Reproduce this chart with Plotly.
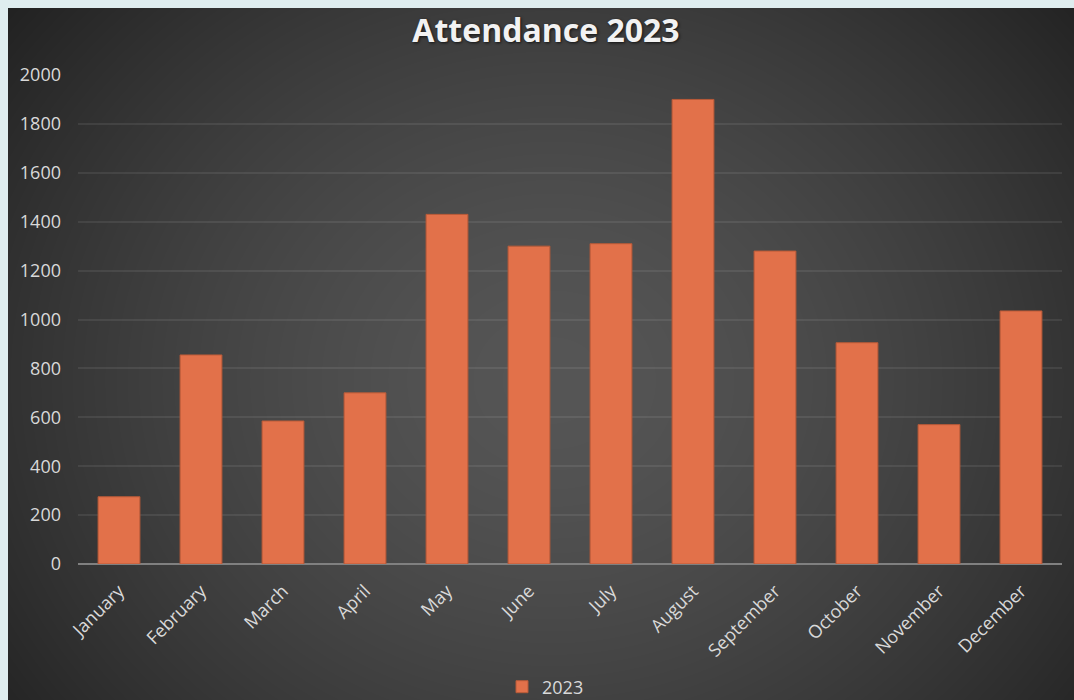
import base64
import struct
import zlib

import numpy as np
import plotly.graph_objects as go

# ---- data ----
months = ["January", "February", "March", "April", "May", "June", "July",
          "August", "September", "October", "November", "December"]
attendance_2023 = [275, 855, 585, 700, 1430, 1300, 1310, 1900, 1280, 905, 570, 1035]
y_ticks = [0, 200, 400, 600, 800, 1000, 1200, 1400, 1600, 1800, 2000]
series_name = "2023"
title_text = "Attendance 2023"

# ---- geometry (page pixels; body margin removed in post_script) ----
W, H = 1074, 700
ML, MR, MT, MB = 78, 12, 75, 136
PW, PH = W - ML - MR, H - MT - MB
BOX_X0, BOX_Y0 = 8, 8  # dark panel top-left


def radial_png(w, h, cx, cy):
    yy, xx = np.mgrid[0:h, 0:w].astype(float)
    r = np.sqrt((xx - cx) ** 2 + ((yy - cy) * 1.15) ** 2)
    rn = r / r.max()
    v = 86 - (86 - 34) * rn ** 1.5
    img = np.clip(v, 0, 255).astype(np.uint8)
    raw = b"".join(b"\x00" + img[i].tobytes() for i in range(h))

    def chunk(t, d):
        return struct.pack(">I", len(d)) + t + d + struct.pack(">I", zlib.crc32(t + d) & 0xFFFFFFFF)

    png = (b"\x89PNG\r\n\x1a\n"
           + chunk(b"IHDR", struct.pack(">IIBBBBB", w, h, 8, 0, 0, 0, 0))
           + chunk(b"IDAT", zlib.compress(raw, 9))
           + chunk(b"IEND", b""))
    return "data:image/png;base64," + base64.b64encode(png).decode()


bw, bh = W - BOX_X0, H - BOX_Y0
bg_src = radial_png(bw, bh, 552 - BOX_X0, 380 - BOX_Y0)

fig = go.Figure()
fig.add_trace(go.Bar(
    x=months, y=attendance_2023, name=series_name,
    marker=dict(color="#E2714A", line=dict(color="#B85A38", width=1)),
    showlegend=True,
))

fig.add_layout_image(dict(
    source=bg_src, xref="paper", yref="paper",
    x=(BOX_X0 - ML) / PW, y=(H - MB - BOX_Y0) / PH,
    sizex=bw / PW, sizey=bh / PH,
    xanchor="left", yanchor="top", sizing="stretch", layer="below",
))

tick_font = dict(size=18, color="#D9D9D9", family="Open Sans, sans-serif")

fig.update_layout(
    width=W, height=H,
    margin=dict(l=ML, r=MR, t=MT, b=MB, autoexpand=False),
    paper_bgcolor="#DFEDEF",
    plot_bgcolor="rgba(0,0,0,0)",
    font=dict(family="Open Sans, sans-serif", color="#D9D9D9", size=18),
    title=dict(text="<b>" + title_text + "</b>", x=546 / W, xanchor="center",
               xref="container", yref="container",
               y=1 - 31 / H, yanchor="middle",
               font=dict(size=32, color="#F2F2F2", family="Open Sans, sans-serif",
                         shadow="1px 1px 3px rgba(0,0,0,0.7)")),
    bargap=0.49,
    showlegend=True,
    legend=dict(orientation="h", xref="container", yref="container",
                x=502 / W, xanchor="left",
                y=1 - 687 / H, yanchor="middle",
                font=tick_font, bgcolor="rgba(0,0,0,0)"),
    xaxis=dict(tickangle=-45, showgrid=False, showline=False, ticks="",
               ticklabelstandoff=12, tickfont=tick_font),
    yaxis=dict(range=[0, 2000], tickvals=y_ticks, showgrid=True,
               gridcolor="rgba(255,255,255,0.08)", gridwidth=1.5, zeroline=True,
               zerolinecolor="#808080", zerolinewidth=2, showline=False,
               ticks="", ticklabelstandoff=16,
               tickfont=tick_font),
)

fig.write_html(
    "out.html",
    config={"displayModeBar": False},
    post_script="document.body.style.margin='0';document.body.style.background='#DFEDEF';",
)
